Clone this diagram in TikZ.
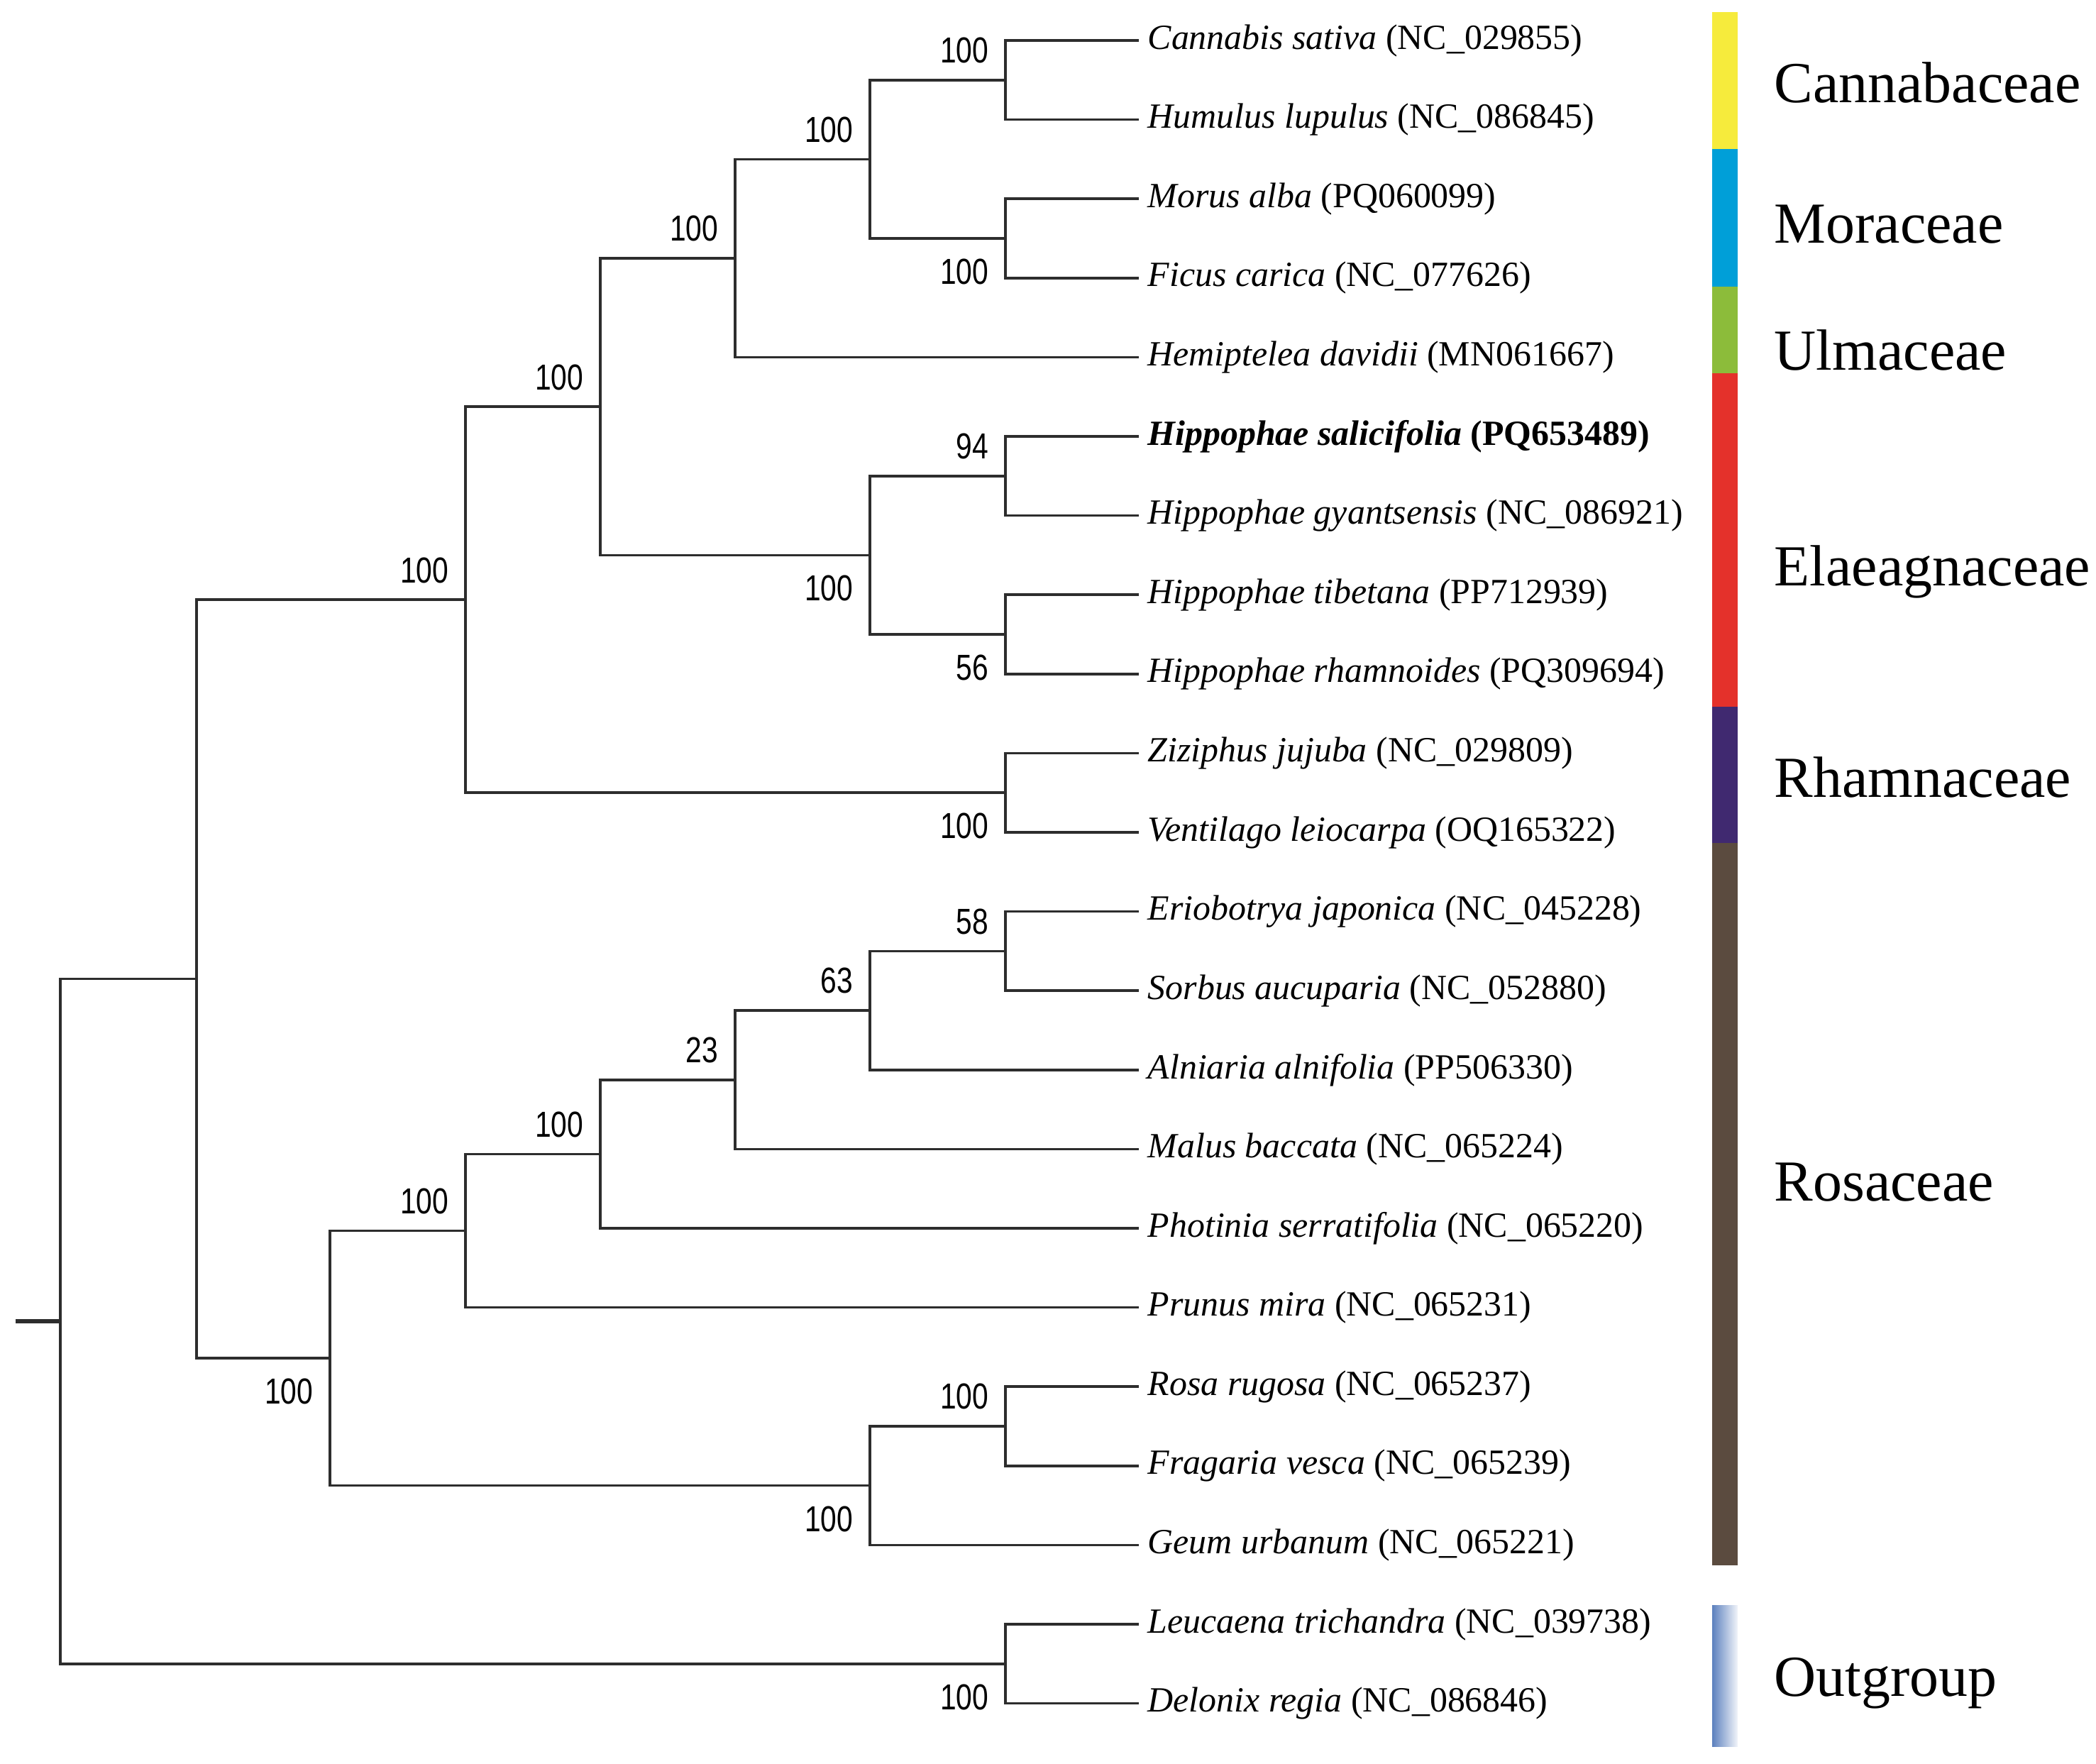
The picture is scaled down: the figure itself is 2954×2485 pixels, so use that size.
\documentclass[tikz,border=0pt]{standalone}
\usepackage{fontspec}
\setmainfont{Liberation Serif}
\newfontfamily\bootfont[FakeStretch=0.8]{Liberation Sans}
\usetikzlibrary{positioning}

\definecolor{treegray}{RGB}{45,45,45}
\definecolor{cannabc}{RGB}{246,235,60}
\definecolor{moracc}{RGB}{0,159,216}
\definecolor{ulmacc}{RGB}{140,188,58}
\definecolor{elaeac}{RGB}{228,49,43}
\definecolor{rhamnc}{RGB}{64,41,112}
\definecolor{rosacc}{RGB}{91,75,63}
\definecolor{outgrc}{RGB}{92,128,190}

\tikzset{
  leaf/.style={anchor=west, inner xsep=1.2mm, inner ysep=0pt, font=\fontsize{14.2pt}{16pt}\selectfont},
  boot/.style={inner sep=0pt, font=\bootfont\fontsize{14.5pt}{16pt}\selectfont},
  ba/.style={boot, above left=2.3mm and 2.3mm of #1},
  bb/.style={boot, below left=2.8mm and 2.3mm of #1},
  family/.style={anchor=base west, inner sep=0pt, font=\fontsize{23.3pt}{27pt}\selectfont},
  branch/.style={draw=treegray, line width=0.35mm, line join=miter},
}

\begin{document}
\begin{tikzpicture}[x=0.1mm, y=-0.1mm]

  \fill[white] (0,0) rectangle (2954,2485);
  \useasboundingbox (0,0) rectangle (2954,2485);

  % Define nodes (taxa)
  \node[leaf] (cansat) at (1605,57)     {\textit{Cannabis sativa} (NC\_029855)};
  \node[leaf] (humlup) at (1605,168.6)  {\textit{Humulus lupulus} (NC\_086845)};
  \node[leaf] (moralb) at (1605,280.2)  {\textit{Morus alba} (PQ060099)};
  \node[leaf] (ficcar) at (1605,391.8)  {\textit{Ficus carica} (NC\_077626)};
  \node[leaf] (hemdav) at (1605,503.4)  {\textit{Hemiptelea davidii} (MN061667)};
  \node[leaf] (hipsal) at (1605,615)    {\bfseries\textit{Hippophae salicifolia} (PQ653489)};
  \node[leaf] (hipgya) at (1605,726.6)  {\textit{Hippophae gyantsensis} (NC\_086921)};
  \node[leaf] (hiptib) at (1605,838.2)  {\textit{Hippophae tibetana} (PP712939)};
  \node[leaf] (hiprha) at (1605,949.8)  {\textit{Hippophae rhamnoides} (PQ309694)};
  \node[leaf] (zizjuj) at (1605,1061.4) {\textit{Ziziphus jujuba} (NC\_029809)};
  \node[leaf] (venlei) at (1605,1173)   {\textit{Ventilago leiocarpa} (OQ165322)};
  \node[leaf] (erijap) at (1605,1284.6) {\textit{Eriobotrya japonica} (NC\_045228)};
  \node[leaf] (sorauc) at (1605,1396.2) {\textit{Sorbus aucuparia} (NC\_052880)};
  \node[leaf] (alnaln) at (1605,1507.8) {\textit{Alniaria alnifolia} (PP506330)};
  \node[leaf] (malbac) at (1605,1619.4) {\textit{Malus baccata} (NC\_065224)};
  \node[leaf] (phoser) at (1605,1731)   {\textit{Photinia serratifolia} (NC\_065220)};
  \node[leaf] (prumir) at (1605,1842.6) {\textit{Prunus mira} (NC\_065231)};
  \node[leaf] (rosrug) at (1605,1954.2) {\textit{Rosa rugosa} (NC\_065237)};
  \node[leaf] (fraves) at (1605,2065.8) {\textit{Fragaria vesca} (NC\_065239)};
  \node[leaf] (geuurb) at (1605,2177.4) {\textit{Geum urbanum} (NC\_065221)};
  \node[leaf] (leutri) at (1605,2289)   {\textit{Leucaena trichandra} (NC\_039738)};
  \node[leaf] (delreg) at (1605,2400.6) {\textit{Delonix regia} (NC\_086846)};

  % Define nodes (splits)
  \coordinate (canhum) at (1417,112.8);
  \coordinate (morfic) at (1417,336);
  \coordinate (canmor) at (1226,224.4);
  \coordinate (urtic)  at (1036,363.9);
  \coordinate (hipsg)  at (1417,670.8);
  \coordinate (hiptr)  at (1417,894);
  \coordinate (hippo)  at (1226,782.4);
  \coordinate (urel)   at (846,573.2);
  \coordinate (zizven) at (1417,1117.2);
  \coordinate (rhamn)  at (656,845.2);
  \coordinate (erisor) at (1417,1340.4);
  \coordinate (maloid) at (1226,1424.1);
  \coordinate (malus)  at (1036,1521.8);
  \coordinate (photin) at (846,1626.4);
  \coordinate (amygd)  at (656,1734.5);
  \coordinate (rosfra) at (1417,2010);
  \coordinate (rosgeu) at (1226,2093.7);
  \coordinate (rosac)  at (465,1914.1);
  \coordinate (ingrp)  at (277,1379.7);
  \coordinate (leudel) at (1417,2344.8);
  \coordinate (root)   at (85,1862.2);
  \coordinate (base)   at (22,1862.2);

  % Connect the nodes
  \draw[branch] (cansat) -| (canhum) |- (humlup);
  \draw[branch] (moralb) -| (morfic) |- (ficcar);
  \draw[branch] (canhum) -| (canmor) |- (morfic);
  \draw[branch] (canmor) -| (urtic) |- (hemdav);
  \draw[branch] (hipsal) -| (hipsg) |- (hipgya);
  \draw[branch] (hiptib) -| (hiptr) |- (hiprha);
  \draw[branch] (hipsg) -| (hippo) |- (hiptr);
  \draw[branch] (urtic) -| (urel) |- (hippo);
  \draw[branch] (zizjuj) -| (zizven) |- (venlei);
  \draw[branch] (urel) -| (rhamn) |- (zizven);
  \draw[branch] (erijap) -| (erisor) |- (sorauc);
  \draw[branch] (erisor) -| (maloid) |- (alnaln);
  \draw[branch] (maloid) -| (malus) |- (malbac);
  \draw[branch] (malus) -| (photin) |- (phoser);
  \draw[branch] (photin) -| (amygd) |- (prumir);
  \draw[branch] (rosrug) -| (rosfra) |- (fraves);
  \draw[branch] (rosfra) -| (rosgeu) |- (geuurb);
  \draw[branch] (amygd) -| (rosac) |- (rosgeu);
  \draw[branch] (rhamn) -| (ingrp) |- (rosac);
  \draw[branch] (leutri) -| (leudel) |- (delreg);
  \draw[branch] (ingrp) -| (root) |- (leudel);
  \draw[branch, line width=0.6mm] (base) -- (root);

  % Bootstrap values
  \node[ba=canhum] (b-canhum) {100};
  \node[bb=morfic] (b-morfic) {100};
  \node[ba=canmor] (b-canmor) {100};
  \node[ba=urtic]  (b-urtic)  {100};
  \node[ba=hipsg]  (b-hipsg)  {94};
  \node[bb=hiptr]  (b-hiptr)  {56};
  \node[bb=hippo]  (b-hippo)  {100};
  \node[ba=urel]   (b-urel)   {100};
  \node[bb=zizven] (b-zizven) {100};
  \node[ba=rhamn]  (b-rhamn)  {100};
  \node[ba=erisor] (b-erisor) {58};
  \node[ba=maloid] (b-maloid) {63};
  \node[ba=malus]  (b-malus)  {23};
  \node[ba=photin] (b-photin) {100};
  \node[ba=amygd]  (b-amygd)  {100};
  \node[ba=rosfra] (b-rosfra) {100};
  \node[bb=rosgeu] (b-rosgeu) {100};
  \node[bb=rosac]  (b-rosac)  {100};
  \node[bb=leudel] (b-leudel) {100};

  % Family bars
  \fill[cannabc] (2413,17)   rectangle (2449,210);
  \fill[moracc]  (2413,210)  rectangle (2449,404);
  \fill[ulmacc]  (2413,404)  rectangle (2449,526);
  \fill[elaeac]  (2413,526)  rectangle (2449,996);
  \fill[rhamnc]  (2413,996)  rectangle (2449,1188);
  \fill[rosacc]  (2413,1188) rectangle (2449,2206);
  \shade[left color=outgrc, right color=outgrc!8] (2413,2262) rectangle (2449,2461);

  \node[family] (f-cannab) at (2500,144)  {Cannabaceae};
  \node[family] (f-morac)  at (2500,342)  {Moraceae};
  \node[family] (f-ulmac)  at (2500,521)  {Ulmaceae};
  \node[family] (f-elaea)  at (2500,825)  {Elaeagnaceae};
  \node[family] (f-rhamn)  at (2500,1123) {Rhamnaceae};
  \node[family] (f-rosac)  at (2500,1692) {Rosaceae};
  \node[family] (f-outgr)  at (2500,2390) {Outgroup};

\end{tikzpicture}
\end{document}
